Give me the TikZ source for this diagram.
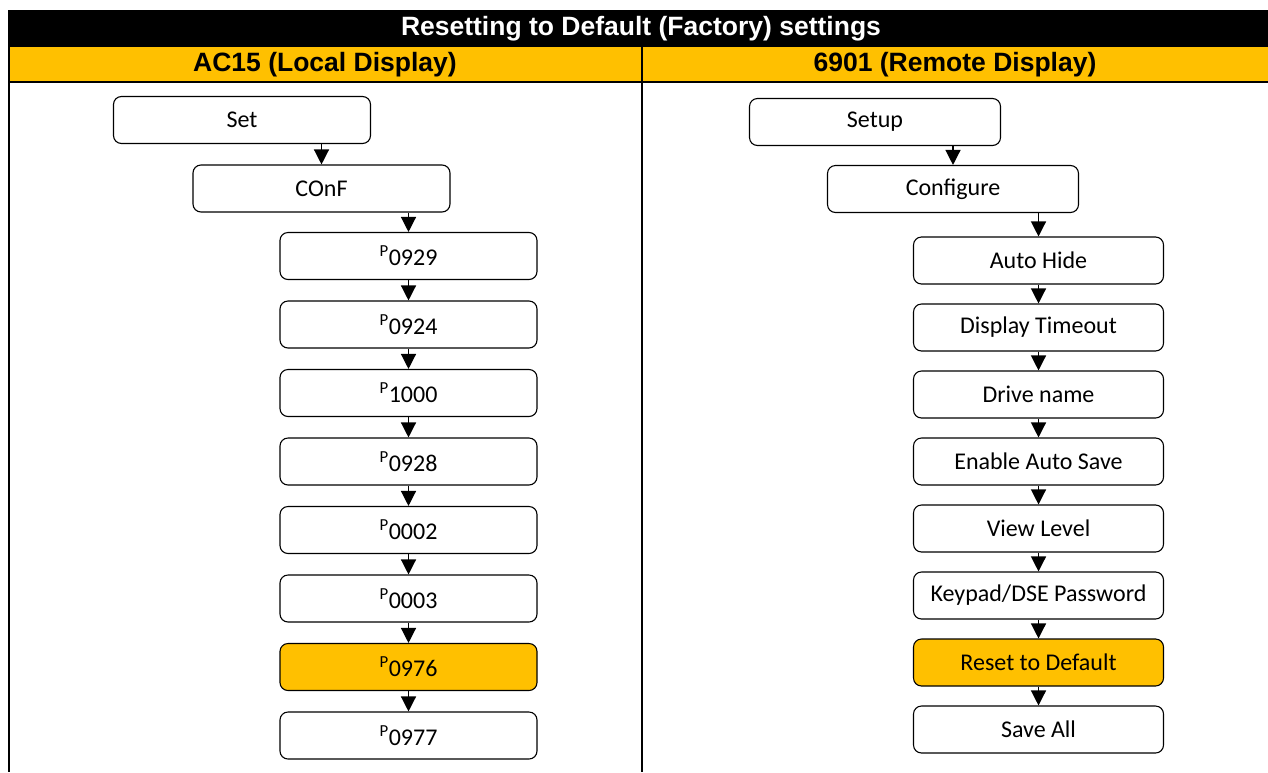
\documentclass[tikz,border=0pt]{standalone}
\usepackage{fontspec}
\setmainfont{Carlito}
\newfontfamily\headfont{Liberation Sans}
\usetikzlibrary{positioning}
\usetikzlibrary{arrows.meta}
\usepackage{xcolor}
\definecolor{amber}{RGB}{255,192,0}
\newcommand{\ppar}[1]{\textsuperscript{P}#1}

\begin{document}
\begin{tikzpicture}[x=1pt, y=-1pt, node distance=68.5pt, on grid,
    menubox/.style={draw, rounded corners=8pt, line width=1.1pt, fill=white,
      minimum width=#1, minimum height=47pt, font=\fontsize{24}{28}\selectfont},
    menubox/.default=257pt,
    flow/.style={-{Triangle[width=15pt,length=15pt]}, line width=1.3pt},
    headtext/.style={font=\headfont\bfseries\fontsize{26.5}{30}\selectfont}]
  \useasboundingbox (0,0) rectangle (1268,772);
  % Table header
  \fill (8,10) rectangle (1268,47);
  \fill[amber] (8,47) rectangle (1268,82);
  \draw[line width=2.5pt] (8,82) -- (1268,82);
  \draw[line width=2pt] (9,10) -- (9,772);
  \draw[line width=2pt] (642,47) -- (642,772);
  \node[headtext, text=white] (title) at (641,29) {Resetting to Default (Factory) settings};
  \node[headtext] (local) at (325,65) {AC15 (Local Display)};
  \node[headtext] (remote) at (955,65) {6901 (Remote Display)};

  % Local display
  \node[menubox] (set) at (242,120) {Set};
  \node[menubox, below right=68.5pt and 79.5pt of set] (conf) {COnF};
  \node[menubox, below right=67.5pt and 87pt of conf] (p0929) {\ppar{0929}};
  \node[menubox, below=of p0929] (p0924) {\ppar{0924}};
  \node[menubox, below=of p0924] (p1000) {\ppar{1000}};
  \node[menubox, below=of p1000] (p0928) {\ppar{0928}};
  \node[menubox, below=of p0928] (p0002) {\ppar{0002}};
  \node[menubox, below=of p0002] (p0003) {\ppar{0003}};
  \node[menubox, fill=amber, below=of p0003] (p0976) {\ppar{0976}};
  \node[menubox, below=of p0976] (p0977) {\ppar{0977}};

  % Remote display
  \node[menubox=251pt] (setup) at (875,122) {Setup};
  \node[menubox=251pt, below right=67pt and 78pt of setup] (configure) {Configure};
  \node[menubox=250pt, below right=71.5pt and 85.5pt of configure] (autohide) {Auto Hide};
  \node[menubox=250pt, below=67pt of autohide] (timeout) {Display Timeout};
  \node[menubox=250pt, below=67pt of timeout] (drivename) {Drive name};
  \node[menubox=250pt, below=67pt of drivename] (autosave) {Enable Auto Save};
  \node[menubox=250pt, below=67pt of autosave] (viewlevel) {View Level};
  \node[menubox=250pt, below=67pt of viewlevel] (password) {Keypad/DSE Password};
  \node[menubox=250pt, fill=amber, below=67pt of password] (reset) {Reset to Default};
  \node[menubox=250pt, below=67pt of reset] (saveall) {Save All};

  % Menu steps
  \foreach \a/\b in {set/conf, conf/p0929, p0929/p0924, p0924/p1000, p1000/p0928,
      p0928/p0002, p0002/p0003, p0003/p0976, p0976/p0977,
      setup/configure, configure/autohide, autohide/timeout, timeout/drivename,
      drivename/autosave, autosave/viewlevel, viewlevel/password, password/reset, reset/saveall}
    \draw[flow] (\a.south -| \b.north) -- (\b.north);
\end{tikzpicture}
\end{document}
